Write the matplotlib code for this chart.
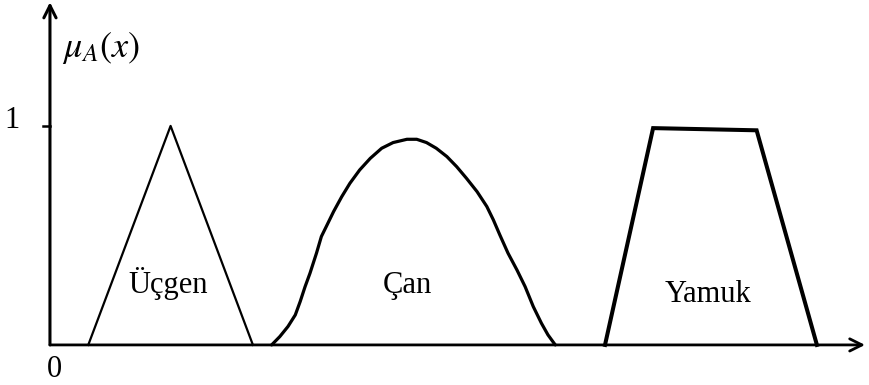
"""
Üyelik fonksiyonları: üçgen, çan ve yamuk.
"""
import matplotlib
matplotlib.use("Agg")
import matplotlib.pyplot as plt

plt.rcParams["font.family"] = ["Liberation Serif", "DejaVu Serif"]
plt.rcParams["mathtext.fontset"] = "stix"

# üçgen
ucgen_x = [0.47, 1.48, 2.49]
ucgen_y = [0.0, 1.0, 0.0]

# çan (resimden okunan noktalar)
can_x = [2.72, 2.82, 2.92, 3.01, 3.07, 3.13, 3.19, 3.27, 3.33, 3.40, 3.48,
         3.58, 3.68, 3.80, 3.93, 4.07, 4.21, 4.38, 4.50, 4.62, 4.74, 4.87,
         4.99, 5.11, 5.24, 5.36, 5.44, 5.52, 5.62, 5.73, 5.83, 5.93, 6.03,
         6.11, 6.20]
can_y = [0.0, 0.038, 0.084, 0.137, 0.198, 0.266, 0.327, 0.419, 0.495, 0.548,
         0.609, 0.677, 0.738, 0.799, 0.852, 0.898, 0.924, 0.939, 0.939, 0.924,
         0.898, 0.860, 0.814, 0.761, 0.700, 0.632, 0.571, 0.502, 0.419, 0.342,
         0.266, 0.175, 0.099, 0.046, 0.0]

# yamuk
yamuk_x = [6.81, 7.40, 8.67, 9.41]
yamuk_y = [0.0, 0.99, 0.98, 0.0]

etiketler = ["Üçgen", "Çan", "Yamuk"]
etiket_x = [1.45, 4.38, 8.07]
etiket_y = [0.237, 0.237, 0.196]

fig = plt.figure(figsize=(8.69, 3.85), dpi=100)
ax = fig.add_axes([0, 0, 1, 1])
ax.set_xlim(-0.613, 10.049)
ax.set_ylim(-0.183, 1.575)
ax.axis("off")

# eksenler
ax.annotate("", xy=(10.0, 0), xytext=(0, 0),
            arrowprops=dict(arrowstyle="->", lw=2.0, color="black",
                            mutation_scale=22, shrinkA=0, shrinkB=0))
ax.annotate("", xy=(0, 1.565), xytext=(0, 0),
            arrowprops=dict(arrowstyle="->", lw=2.2, color="black",
                            mutation_scale=22, shrinkA=0, shrinkB=0))
ax.plot([-0.09, 0], [1.0, 1.0], color="black", lw=1.8)

ax.plot(ucgen_x, ucgen_y, color="black", lw=1.6)
ax.plot(can_x, can_y, color="black", lw=2.3, solid_capstyle="round",
        solid_joinstyle="round")
ax.plot(yamuk_x, yamuk_y, color="black", lw=2.9, solid_joinstyle="miter")

for t, x, y in zip(etiketler, etiket_x, etiket_y):
    ax.text(x, y, t, ha="center", va="baseline", fontsize=22)

ax.text(0.147, 1.315, r"$\mu_{A}(x)$", ha="left", va="baseline", fontsize=26)
ax.text(-0.466, 0.99, "1", ha="center", va="baseline", fontsize=22)
ax.text(0.05, -0.146, "0", ha="center", va="baseline", fontsize=22)

fig.savefig("out.png", dpi=100)
